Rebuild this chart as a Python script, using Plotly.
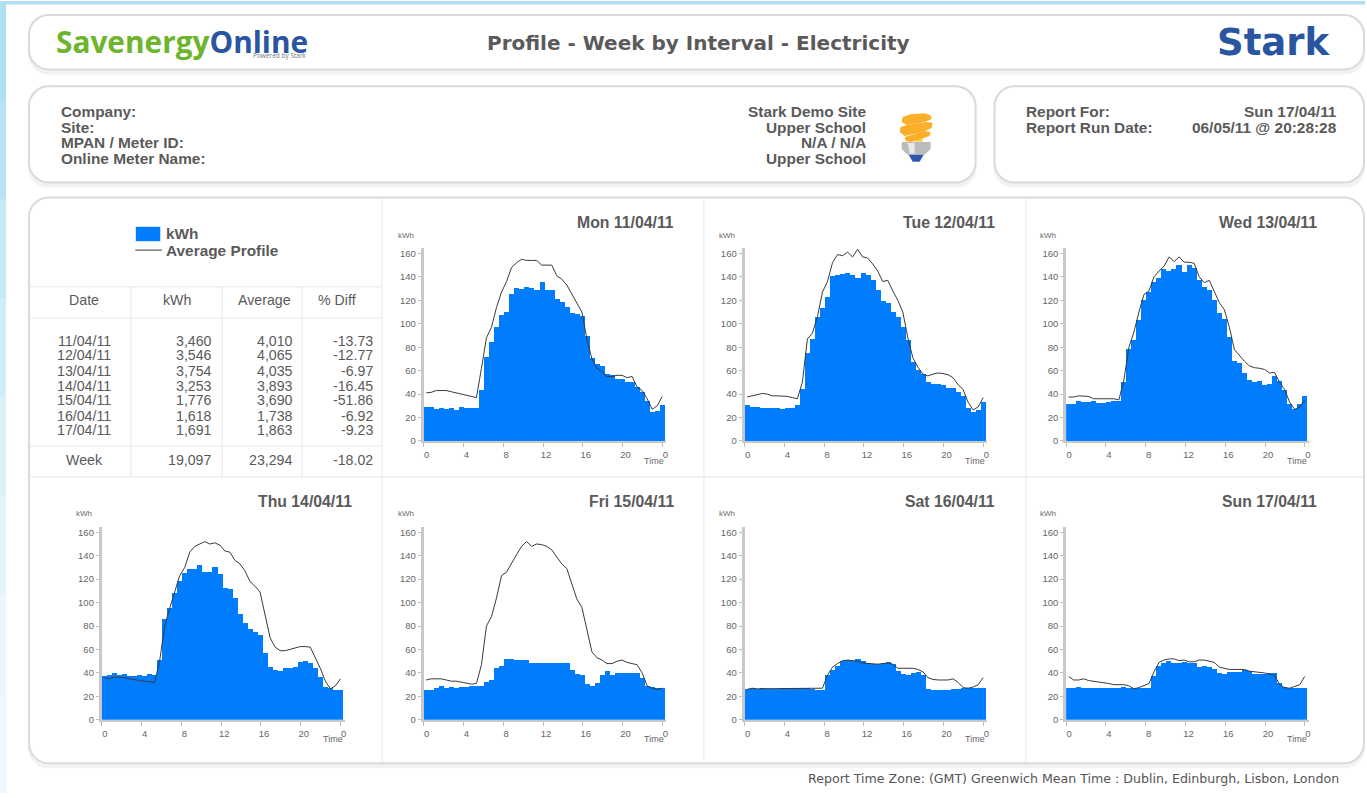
import plotly.graph_objects as go

W, H = 1367, 798

# ---------- data ----------
day_titles = ["Mon 11/04/11", "Tue 12/04/11", "Wed 13/04/11", "Thu 14/04/11",
              "Fri 15/04/11", "Sat 16/04/11", "Sun 17/04/11"]

mon_kwh = [29,29,27,28,27,27.5,26,29,27.5,28,27.5,43,71,84,97,107,110,125,130,129,131,130,128.5,135.5,
           128,128,121,118,114,109,108,106,89,70,65.5,63.5,57,56,52.5,52.5,49.5,49.5,46,41,34,24.5,25,30]
mon_avg = [41,41.5,43,43,43,42,41,40,39.5,38,37,62,88,97,114,127,136,148,152,155,154,154,154,150,
           150,150,141,138,133,125,117,110,87,70,62,59,55,55,56,56,54,55,46,43,36,27,30,38]
tue_kwh = [30,28.5,28.5,27.5,28,27.5,27.5,27,28,28,30,44,75,87,105,113,122,140.5,141,142,142.5,141,139,142.5,
           141.5,137,128,119,117,110,105,97,86,67,60,57,50,48,48.5,47,45,45,41,38,28,24,26,33]
tue_avg = [37.5,38.5,40,40.5,40,38.5,38.5,38.5,38,37,36,50,87,92,106,127,136,152,159,158,161,157,163.5,157,
           156,151,145,136,137,128,120,110,88,71,63,57,55.5,57,58,57.5,56.5,54,48,44,33,26.5,29,37]
wed_kwh = [31.5,31.5,34,33,33,33.5,32,32,32.5,33.5,33.5,50,78,86,103,120,127,135,139,146,145,146,150,144,
           150,147,137,131,128,120,109,104,88,68,66,58,52,49.5,50.5,47,48.5,55,51,43,31,27,31.5,38]
wed_avg = [37.5,37.5,38.5,38.5,38,36,36,36,36,36,35,52,80,93,110,125,128,140,145,149,157,153,157,152.5,
           152.5,151.5,140,135,137,128,118,112,97,78,73,68,64,62.5,62,61,58,58.5,50,44,33,27,29,35]
thu_kwh = [37,38,39.5,38,38.5,37,37,38,37,38.5,38,51,86,95,108,118,125,128,128,132,126,126,130,124,
           112,111,104,90,82,77,75,72,57,45,42,41,44,44,45,49,50,48,44,36,27.5,27,25,25]
thu_avg = [36,35,36.5,36.5,36,35,34,33.5,33,32.5,32,50,80,95,108,123,130,143,148,150,152,150,151,149,
           144,143,136,133,127,118,114,109,88,70,62,59,59,60,61.5,62.5,62.5,62,53,44,33,26.5,29,35]
fri_kwh = [25.5,25.5,26.5,29,26.5,27.5,26.5,27.5,27.5,28.5,28.5,29,32,33.5,44,46,51.5,51.5,50.5,50.5,50.5,48,48,48,
           48,48,48,48,48,42.5,39,38,30,29,31,38,41,38,40,40,40,40,40,35,28.5,27.5,26.5,26.5]
fri_avg = [34,35,35,35,34,33,33,32,31,30.5,31,47,80,88,104,123,126,134,141,148,152,148,150,149.5,
           148,145,139,133,129,116,103,96,78,58,53,51,48,48,50,51,49,48,47,40,29,27,26,27]
sat_kwh = [26,26.5,26,26.5,26,26,26,26.5,26,26.5,26.5,26.5,26.5,26,25,25.5,38,42,46,50,50.5,50,52,49.5,
           48,47.5,47,48,49,47,41.5,39,38,40,40.5,38,26,25,25,25.5,25.5,26,26,26.5,26.5,26.5,26.5,27]
sat_avg = [26,27,26.5,26.5,26.5,26.5,26.5,27,26.5,27,27,27,27,27,27,27,38,45,48,50.5,51,50.5,50,48.5,
           48,48,47.5,48,48.5,47.5,44,44,44,44,43,41,36,34.5,34,34,34,35,32,27.5,27,28,30,36]
sun_kwh = [26.5,26.5,27.5,26.5,26.5,26.5,27,26.5,26.5,26.5,26.5,27.5,26.5,26.5,26.5,26.5,26.5,37,46,48,49.5,48,48,49,
           48,48,45,46,45,43,39.5,39,40.5,40.5,40.5,42,41,39,39,39,39.5,39.5,31,27.5,26.5,26.5,26.5,26.5]
sun_avg = [37,34,34,35,33.5,33,32,32,31,30,30,30,29,26.5,27.5,29,31,41,49,51,52,52,50.5,51,
           49.5,49.5,51,51,50,49,45,44,43,43,43,43,41.5,41,41,40,39,38,30,27.5,27,28.5,30,37]

kwh_series = [mon_kwh, tue_kwh, wed_kwh, thu_kwh, fri_kwh, sat_kwh, sun_kwh]
avg_series = [mon_avg, tue_avg, wed_avg, thu_avg, fri_avg, sat_avg, sun_avg]

x_ticks = [0, 4, 8, 12, 16, 20, 24]
x_tick_labels = ["0", "4", "8", "12", "16", "20", "0"]
y_ticks = [0, 20, 40, 60, 80, 100, 120, 140, 160]

table_dates = ["11/04/11","12/04/11","13/04/11","14/04/11","15/04/11","16/04/11","17/04/11"]
table_kwh = ["3,460","3,546","3,754","3,253","1,776","1,618","1,691"]
table_average = ["4,010","4,065","4,035","3,893","3,690","1,738","1,863"]
table_diff = ["-13.73","-12.77","-6.97","-16.45","-51.86","-6.92","-9.23"]
table_week = ["Week","19,097","23,294","-18.02"]

# ---------- layout helpers ----------
TXT = "#5a5a5a"
FONT = "Liberation Sans"
BLUE = "#007CFF"
anns, shapes = [], []

def px(x): return x / W
def py(y): return 1 - y / H

def text(x, y, s, size=13, bold=False, color=TXT, anchor="left", family=FONT):
    anns.append(dict(xref="paper", yref="paper", x=px(x), y=py(y), text=f"<b>{s}</b>" if bold else s,
                     showarrow=False, xanchor=anchor, yanchor="middle",
                     font=dict(family=family, size=size, color=color), borderpad=0))

def rect(x0, y0, x1, y1, fill, line=None, lw=0):
    shapes.append(dict(type="rect", xref="paper", yref="paper", x0=px(x0), x1=px(x1), y0=py(y0), y1=py(y1),
                       fillcolor=fill, line=dict(color=line or fill, width=lw), layer="below"))

def hline(x0, x1, y, color="#e6e7e9", lw=1):
    shapes.append(dict(type="line", xref="paper", yref="paper", x0=px(x0), x1=px(x1), y0=py(y), y1=py(y),
                       line=dict(color=color, width=lw), layer="below"))

def vline(x, y0, y1, color="#e6e7e9", lw=1):
    shapes.append(dict(type="line", xref="paper", yref="paper", x0=px(x), x1=px(x), y0=py(y0), y1=py(y1),
                       line=dict(color=color, width=lw), layer="below"))

def path(d, fill, line=None, lw=0):
    shapes.append(dict(type="path", xref="paper", yref="paper", path=d, fillcolor=fill,
                       line=dict(color=line or fill, width=lw), layer="below"))

def pt(x, y): return f"{px(x):.5f},{py(y):.5f}"

def rounded(x0, y0, x1, y1, r):
    k = r * 0.45
    return (f"M{pt(x0+r,y0)} L{pt(x1-r,y0)} C{pt(x1-k,y0)} {pt(x1,y0+k)} {pt(x1,y0+r)} "
            f"L{pt(x1,y1-r)} C{pt(x1,y1-k)} {pt(x1-k,y1)} {pt(x1-r,y1)} "
            f"L{pt(x0+r,y1)} C{pt(x0+k,y1)} {pt(x0,y1-k)} {pt(x0,y1-r)} "
            f"L{pt(x0,y0+r)} C{pt(x0,y0+k)} {pt(x0+k,y0)} {pt(x0+r,y0)} Z")

def panel(x0, y0, x1, y1, r=20):
    path(rounded(x0 - 1, y0 - 1, x1 + 1, y1 + 5, r), "#f1f2f3")
    path(rounded(x0, y0, x1, y1, r), "#ffffff", "#d8dadc", 2)

# page edges
rect(0, 0, W, 3.5, "#aee0f2")
left_steps = ["#aee0f2","#b8e3f3","#c4e8f5","#d0ecf7","#dbf1f9","#e3f4fa","#e9f6fb","#eef8fc"]
for i, c in enumerate(left_steps):
    rect(0, i * H / len(left_steps), 6, (i + 1) * H / len(left_steps), c)

# panels
panel(29, 14, 1366, 69)
panel(29, 86, 977, 183)
panel(996, 86, 1366, 183)
panel(29, 198, 1366, 768)

# main grid
for x in (382.5, 705, 1027.5):
    vline(x, 198, 767)
hline(30, 1365, 479.5)
hline(30, 382, 288)
hline(30, 382, 319.5)
hline(30, 382, 448.5)
for x in (131, 222.5, 302.5):
    vline(x, 288, 479)

# header text
text(700, 42, "Profile - Week by Interval - Electricity", size=20, bold=True, anchor="center", family="DejaVu Sans")
text(55, 41, '<span style="color:#6cb52d">Savenergy</span><span style="color:#2a55a0">Online</span>',
     size=29.8, bold=True, family="Open Sans")
text(308, 54.5, "Powered by Stark", size=6.5, anchor="right", color="#777777", family="Open Sans")
text(1334, 42, "Stark", size=37, bold=True, color="#2a55a0", anchor="right", family="DejaVu Sans")

for y, l, v in zip((111, 127, 143, 159),
                   ("Company:", "Site:", "MPAN / Meter ID:", "Online Meter Name:"),
                   ("Stark Demo Site", "Upper School", "N/A / N/A", "Upper School")):
    text(60, y, l, size=15.4, bold=True)
    text(868, y, v, size=15.4, bold=True, anchor="right")
text(1027, 111, "Report For:", size=15.4, bold=True)
text(1027, 127, "Report Run Date:", size=15.4, bold=True)
text(1340, 111, "Sun 17/04/11", size=15.4, bold=True, anchor="right")
text(1340, 127, "06/05/11 @ 20:28:28", size=15.4, bold=True, anchor="right")

# bulb
def poly(points):
    return "M" + " L".join(pt(x, y) for x, y in points) + " Z"
path(poly([(916,134),(925,134),(924,143),(917,143)]), "#fcd36a")
for pts in ([(904,117),(912,114),(926,113),(932,115),(933,119),(926,122),(908,125),(903,122)],
            [(902,127),(908,125),(928,122),(934,123),(933,128),(924,132),(906,136),(901,132)],
            [(906,137),(926,131),(932,132),(931,136),(920,140),(912,142),(907,141)]):
    path(poly(pts), "#fbae2a")
path(poly([(903,142),(932,142),(932,149),(926,155),(909,155),(903,149)]), "#b9bbbd")
path(poly([(909,143),(916,143),(916,154),(911,154)]), "#e8e9ea")
path(poly([(910,155),(925,155),(921,162),(914,162)]), "#2d57b0")

# legend
rect(136, 227.5, 160.5, 242, BLUE)
hline(135.5, 162, 251, color="#555555", lw=1.2)
text(165, 234.5, "kWh", size=15.4, bold=True)
text(165, 251, "Average Profile", size=15.4, bold=True)

# table
TS = 14.2
for x, s in ((84.5, "Date"), (177, "kWh"), (265, "Average"), (337, "% Diff")):
    text(x, 301.5, s, size=TS, anchor="center")
row_y = [342.5, 357, 373, 387.5, 402, 418, 432.5]
for y, d, k, a, p in zip(row_y, table_dates, table_kwh, table_average, table_diff):
    text(84.5, y, d, size=TS, anchor="center")
    text(213.5, y, k, size=TS, anchor="right")
    text(294.5, y, a, size=TS, anchor="right")
    text(374.5, y, p, size=TS, anchor="right")
text(85, 462.5, table_week[0], size=TS, anchor="center")
text(213.5, 462.5, table_week[1], size=TS, anchor="right")
text(294.5, 462.5, table_week[2], size=TS, anchor="right")
text(374.5, 462.5, table_week[3], size=TS, anchor="right")

text(1342, 783, "Report Time Zone: (GMT) Greenwich Mean Time : Dublin, Edinburgh, Lisbon, London",
     size=12.6, anchor="right", family="DejaVu Sans", color="#555555")

# ---------- charts ----------
fig = go.Figure()
origins = [(424.3, 443.3), (745.7, 443.3), (1067.7, 443.3),
           (102.0, 724.3), (424.3, 724.3), (745.7, 724.3), (1067.7, 724.3)]
PX_PER_HOUR = 9.96
PX_PER_KW = 189 / 160
X_MAX, Y_MAX = 24.4, 164.2
SLOT = 0.505   # the source plots 48 half-hour bands slightly wider than the time scale
slots = [0.2525 + SLOT * i for i in range(48)]

layout_axes = {}
for i, (x0, y0) in enumerate(origins):
    n = "" if i == 0 else str(i + 1)
    fig.add_trace(go.Bar(x=slots, y=kwh_series[i], width=SLOT, name="kWh", marker=dict(color=BLUE, line=dict(width=0)),
                         xaxis="x" + n, yaxis="y" + n, showlegend=False))
    fig.add_trace(go.Scatter(x=slots, y=avg_series[i], mode="lines", name="Average Profile",
                             line=dict(color="#3a3a3a", width=1), xaxis="x" + n, yaxis="y" + n, showlegend=False))
    layout_axes["xaxis" + n] = dict(
        domain=[px(x0), px(x0 + X_MAX * PX_PER_HOUR)], range=[0, X_MAX], anchor="y" + n,
        tickmode="array", tickvals=x_ticks, ticktext=x_tick_labels, ticks="outside", ticklen=4, tickwidth=1,
        tickcolor="#bbbbbb", showline=True, linecolor="#c8c8c8", linewidth=1.5, showgrid=False, zeroline=False,
        tickfont=dict(family=FONT, size=9.5, color="#666666"), ticklabelshift=3, ticklabelstandoff=0)
    layout_axes["yaxis" + n] = dict(
        domain=[py(y0), py(y0 - Y_MAX * PX_PER_KW)], range=[0, Y_MAX], anchor="x" + n,
        tickmode="array", tickvals=y_ticks, ticks="outside", ticklen=3, tickwidth=1, tickcolor="#bbbbbb",
        showline=True, linecolor="#c8c8c8", linewidth=3, showgrid=False, zeroline=False,
        tickfont=dict(family=FONT, size=9.5, color="#666666"))
    # panel captions, placed relative to each chart origin
    text(x0 + 252, y0 - 220, day_titles[i], size=15.8, bold=True, anchor="right")
    text(x0 - 18, y0 - 207.5, "kWh", size=8, anchor="center", color="#666666")
    text(x0 + 231, y0 + 19.7, "Time", size=9, anchor="center", color="#666666")

fig.update_layout(width=W, height=H, margin=dict(l=0, r=0, t=0, b=0), paper_bgcolor="#ffffff", plot_bgcolor="rgba(0,0,0,0)",
                  barmode="overlay", bargap=0, annotations=anns, shapes=shapes, showlegend=False, **layout_axes)

fig.write_html("out.html", config=dict(displayModeBar=False, responsive=False),
               post_script="document.body.style.margin='0';document.body.style.overflow='hidden';")
